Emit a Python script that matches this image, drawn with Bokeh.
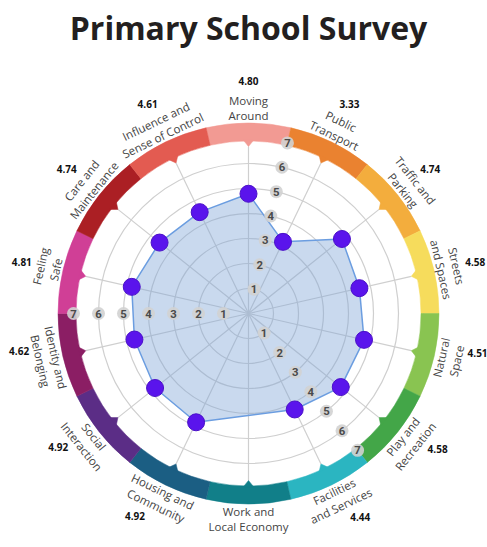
import math
from bokeh.plotting import figure
from bokeh.core.properties import value
from bokeh.embed import file_html
from bokeh.resources import INLINE

# ---------------- data ----------------
categories = ["Moving Around", "Public Transport", "Traffic and Parking", "Streets and Spaces",
              "Natural Space", "Play and Recreation", "Facilities and Services",
              "Work and Local Economy", "Housing and Community", "Social Interaction",
              "Identity and Belonging", "Feeling Safe", "Care and Maintenance",
              "Influence and Sense of Control"]
label_lines = ["Moving\nAround", "Public\nTransport", "Traffic and\nParking", "Streets\nand Spaces",
               "Natural\nSpace", "Play and\nRecreation", "Facilities\nand Services",
               "Work and\nLocal Economy", "Housing and\nCommunity", "Social\nInteraction",
               "Identity and\nBelonging", "Feeling\nSafe", "Care and\nMaintenance",
               "Influence and\nSense of Control"]
score_labels = ["4.80", "3.33", "4.74", "4.58", "4.51", "4.58", "4.44", "",
                "4.92", "4.92", "4.62", "4.81", "4.74", "4.61"]
# plotted positions of the dots; Work has no value
scores = [4.79, 3.18, 4.78, 4.55, 4.74, 4.72, 4.26, None,
          4.83, 4.78, 4.68, 4.79, 4.55, 4.50]
band_colors = ["#f29a93", "#ea8230", "#f3ad3d", "#f6dc5c", "#89c451", "#43a648", "#2bb5c1",
               "#117f89", "#1b5e83", "#5b2d86", "#8b1e64", "#d03f96", "#ab1f24", "#e35b51"]
scale_ticks = [1, 2, 3, 4, 5, 6, 7]
scale_boundaries = [0, 5, 10]  # boundary index after which scale badges are drawn

# ---------------- geometry / style ----------------
N = len(categories)
step = 360.0 / N
R_BAND_IN, R_BAND_OUT = 6.9, 7.62
R_NOTCH = 6.68
R_LABEL, R_VALUE = 8.22, 9.3
PX = 25.0          # pixels per unit
CX, CY = 248, 313  # centre of the wheel on the page
W, H = 487, 545


def phi(theta_deg):
    """clockwise-from-top degrees -> bokeh radians (ccw from +x)"""
    return math.radians(90.0 - theta_deg)


def pol(r, theta_deg):
    a = phi(theta_deg)
    return r * math.cos(a), r * math.sin(a)


p = figure(width=W, height=H, x_range=(-CX / PX, (W - CX) / PX),
           y_range=((CY - H) / PX, CY / PX),
           output_backend="svg", toolbar_location=None, min_border=0)
p.axis.visible = False
p.grid.visible = False
p.outline_line_color = None
p.background_fill_color = "white"

# rings
p.circle(x=[0] * len(scale_ticks), y=[0] * len(scale_ticks), radius=scale_ticks,
         fill_color=None, line_color="#cfcfcf", line_width=1.2)

# spokes
thetas = [i * step for i in range(N)]
sx1 = [pol(R_NOTCH, t)[0] for t in thetas]
sy1 = [pol(R_NOTCH, t)[1] for t in thetas]
p.segment(x0=[0] * N, y0=[0] * N, x1=sx1, y1=sy1, line_color="#cfcfcf", line_width=1.2)

# polygon
px = [pol(s, t)[0] for s, t in zip(scores, thetas) if s is not None]
py = [pol(s, t)[1] for s, t in zip(scores, thetas) if s is not None]
p.patch(px, py, fill_color="#7ea5d6", fill_alpha=0.42, line_color="#6b9de0", line_width=1.5)

# outer coloured band
p.annular_wedge(x=[0] * N, y=[0] * N, inner_radius=R_BAND_IN, outer_radius=R_BAND_OUT,
                start_angle=[phi(t + step / 2) for t in thetas],
                end_angle=[phi(t - step / 2) for t in thetas],
                fill_color=band_colors, line_color=band_colors, line_width=0.5)

# notches
nx, ny = [], []
for t in thetas:
    a = pol(R_BAND_IN + 0.05, t - 1.8)
    b = pol(R_NOTCH, t)
    c = pol(R_BAND_IN + 0.05, t + 1.8)
    nx.append([a[0], b[0], c[0]])
    ny.append([a[1], b[1], c[1]])
p.patches(nx, ny, fill_color=band_colors, line_color=band_colors, line_width=0.5)

# scale badges
bx, by, bt = [], [], []
for bnd in scale_boundaries:
    tb = bnd * step + step / 2
    for v in scale_ticks:
        x, y = pol(v, tb)
        bx.append(x)
        by.append(y)
        bt.append(str(v))
p.scatter(bx, by, size=13, fill_color="#d2d2d2", line_color=None, fill_alpha=0.9)
p.text(bx, by, text=bt, text_align="center", text_baseline="middle",
       text_font=value("Roboto"), text_font_style="bold", text_font_size="8.5pt",
       text_color="#4a4a4a")

# dots
p.scatter(px, py, size=17, fill_color="#5a14ec", line_color="#4a10c8", line_width=1)

# category labels
lx, ly, la = [], [], []
for t in thetas:
    x, y = pol(R_LABEL, t)
    lx.append(x)
    ly.append(y)
    if 90 < t < 270:
        la.append(math.radians(180 - t))
    else:
        la.append(math.radians(-t))
p.text(lx, ly, text=label_lines, angle=la, text_align="center", text_baseline="middle",
       text_font=value("Open Sans"), text_font_size="11.5px", text_color="#444444",
       text_line_height=1.05)

# score labels (lower-half labels nudged away from the bottom)
vx, vy = [], []
for t in thetas:
    nudge = 0.0
    if 90 < t < 180:
        nudge = -3.0
    elif 180 < t < 270:
        nudge = 3.5
    x, y = pol(R_VALUE, t + nudge)
    vx.append(x)
    vy.append(y)
p.text(vx, vy, text=score_labels, text_align="center", text_baseline="middle",
       text_font=value("Open Sans"), text_font_style="bold", text_font_size="10px",
       text_color="#111111")

# title
p.text(x=[0], y=[(CY - 27) / PX], text=["Primary School Survey"], text_align="center",
       text_baseline="middle", text_font=value("Open Sans"), text_font_style="bold",
       text_font_size="32px", text_color="#231f20")

open("out.html", "w").write(file_html(p, INLINE))
